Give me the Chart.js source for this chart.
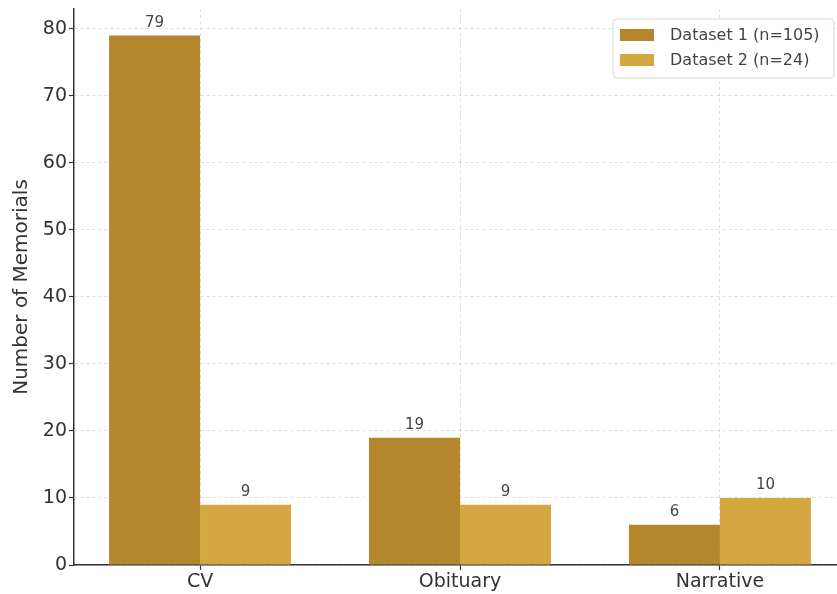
<!DOCTYPE html>
<html>
<head>
<meta charset="utf-8">
<title>Memorial types</title>
<script src="https://cdn.jsdelivr.net/npm/chart.js@4/dist/chart.umd.min.js"></script>
<style>
  html, body { margin: 0; padding: 0; background: #fff; overflow: hidden; }
  #wrap { width: 850px; height: 594px; }
</style>
</head>
<body>
<div id="wrap"><canvas id="chart" width="850" height="594"></canvas></div>
<script>
// Memorial categories and counts per dataset
const categories = ['CV', 'Obituary', 'Narrative'];
const dataset1Label = 'Dataset 1 (n=105)';
const dataset2Label = 'Dataset 2 (n=24)';
const dataset1Values = [79, 19, 6];
const dataset2Values = [9, 9, 10];
const yTicks = [0, 10, 20, 30, 40, 50, 60, 70, 80];

const color1 = '#b4872d';
const color2 = '#d4a741';
const FONT = "'DejaVu Sans', sans-serif";

const toPoints = vals => vals.map((v, i) => ({ x: i, y: v }));

// Count printed above each bar
const valueLabels = {
  id: 'valueLabels',
  afterDatasetsDraw(chart) {
    const ctx = chart.ctx;
    ctx.save();
    ctx.font = '15px ' + FONT;
    ctx.fillStyle = '#444';
    ctx.textAlign = 'center';
    ctx.textBaseline = 'bottom';
    chart.data.datasets.forEach((ds, di) => {
      chart.getDatasetMeta(di).data.forEach((bar, i) => {
        ctx.fillText(String(ds.data[i].y), bar.x, bar.y - 5);
      });
    });
    ctx.restore();
  }
};

// Boxed legend in the upper-right corner of the plot
const boxLegend = {
  id: 'boxLegend',
  afterDraw(chart) {
    const ctx = chart.ctx;
    const area = chart.chartArea;
    const w = 221, h = 59;
    const x = area.right - 12 - w, y = area.top + 10;
    ctx.save();
    ctx.beginPath();
    ctx.roundRect(x, y, w, h, 4);
    ctx.fillStyle = 'rgba(255,255,255,0.85)';
    ctx.fill();
    ctx.strokeStyle = '#d6d6d6';
    ctx.lineWidth = 1;
    ctx.stroke();
    ctx.font = '16px ' + FONT;
    ctx.textBaseline = 'middle';
    ctx.textAlign = 'left';
    chart.data.datasets.forEach((ds, i) => {
      const cy = y + 16 + i * 25;
      ctx.fillStyle = ds.backgroundColor;
      ctx.fillRect(x + 7, cy - 6, 34, 12);
      ctx.fillStyle = '#444';
      ctx.fillText(ds.label, x + 57, cy + 1);
    });
    ctx.restore();
  }
};

const noScalePadding = scale => {
  scale.paddingTop = 0;
  scale.paddingBottom = 0;
  scale.paddingLeft = 0;
  scale.paddingRight = 0;
};

new Chart(document.getElementById('chart'), {
  type: 'bar',
  data: {
    datasets: [
      { label: dataset1Label, data: toPoints(dataset1Values), backgroundColor: color1 },
      { label: dataset2Label, data: toPoints(dataset2Values), backgroundColor: color2 }
    ]
  },
  options: {
    responsive: false,
    animation: false,
    devicePixelRatio: 1,
    layout: { padding: { top: 9, right: 4, left: 0, bottom: 0 } },
    datasets: { bar: { categoryPercentage: 0.7, barPercentage: 1.0 } },
    plugins: { legend: { display: false }, tooltip: { enabled: false } },
    scales: {
      x: {
        type: 'linear',
        offset: false,
        min: -0.485,
        max: 2.485,
        afterFit(scale) { scale.height = 29; noScalePadding(scale); },
        afterBuildTicks(scale) { scale.ticks = categories.map((c, i) => ({ value: i })); },
        ticks: {
          stepSize: 1,
          includeBounds: false,
          autoSkip: false,
          maxRotation: 0,
          padding: 1,
          color: '#333',
          font: { family: FONT, size: 19 },
          callback: v => categories[v] ?? ''
        },
        grid: {
          offset: false,
          color: 'rgba(0,0,0,0.13)',
          lineWidth: 1,
          tickLength: 5,
          tickColor: '#333',
          tickWidth: 1.2,
          tickBorderDash: []
        },
        border: { display: true, color: '#333', width: 1.5, dash: [3, 3] }
      },
      y: {
        type: 'linear',
        min: 0,
        max: 82.95,
        afterFit(scale) { scale.width = 74; noScalePadding(scale); },
        afterBuildTicks(scale) { scale.ticks = yTicks.map(v => ({ value: v })); },
        ticks: {
          stepSize: 10,
          includeBounds: false,
          padding: 2,
          color: '#333',
          font: { family: FONT, size: 19 }
        },
        grid: {
          color: 'rgba(0,0,0,0.13)',
          lineWidth: 1,
          tickLength: 5,
          tickColor: '#333',
          tickWidth: 1.2,
          tickBorderDash: []
        },
        border: { display: true, color: '#333', width: 1.5, dash: [3, 3] },
        title: {
          display: true,
          text: 'Number of Memorials',
          color: '#333',
          font: { family: FONT, size: 20 },
          padding: { top: 10, bottom: 0 }
        }
      }
    }
  },
  plugins: [valueLabels, boxLegend]
});
</script>
</body>
</html>
